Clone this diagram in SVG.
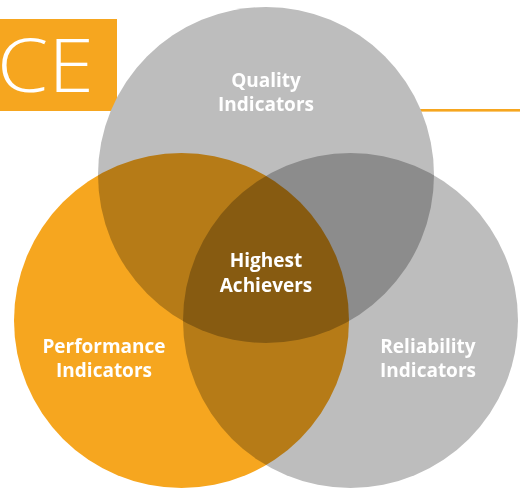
<svg xmlns="http://www.w3.org/2000/svg" width="520" height="490" viewBox="0 0 520 490">
  <style>
    .c { mix-blend-mode: multiply; }
    .gray { fill: #BDBDBD; }
    .orange { fill: #F6A61F; }
    .lbl { font-family: "Open Sans", "Liberation Sans", sans-serif; font-weight: 700; font-size: 19px; fill: #FFFFFF; text-anchor: middle; }
  </style>
  <g id="banner">
    <rect x="0" y="19" width="117" height="92" fill="#F6A61F"/>
    <rect x="117" y="109" width="403" height="2.6" fill="#F6A61F"/>
    <text x="-3" y="92" font-family="Open Sans, Liberation Sans, sans-serif" font-weight="300" font-size="74" fill="#FFFFFF" textLength="97" lengthAdjust="spacingAndGlyphs">CE</text>
  </g>
  <g id="circles" style="isolation:isolate">
    <g id="quality"><circle class="c gray" cx="266" cy="175" r="168"/></g>
    <g id="performance"><circle class="c orange" cx="181.5" cy="320.5" r="167.5"/></g>
    <g id="reliability"><circle class="c gray" cx="350.5" cy="320.5" r="167.5"/></g>
  </g>
  <g id="connectors"/>
  <g id="labels">
    <text class="lbl" x="266" y="87">Quality</text>
    <text class="lbl" x="266" y="111">Indicators</text>
    <text class="lbl" x="266" y="267">Highest</text>
    <text class="lbl" x="266" y="292">Achievers</text>
    <text class="lbl" x="104" y="353">Performance</text>
    <text class="lbl" x="104" y="377">Indicators</text>
    <text class="lbl" x="428" y="353">Reliability</text>
    <text class="lbl" x="428" y="377">Indicators</text>
  </g>
</svg>
